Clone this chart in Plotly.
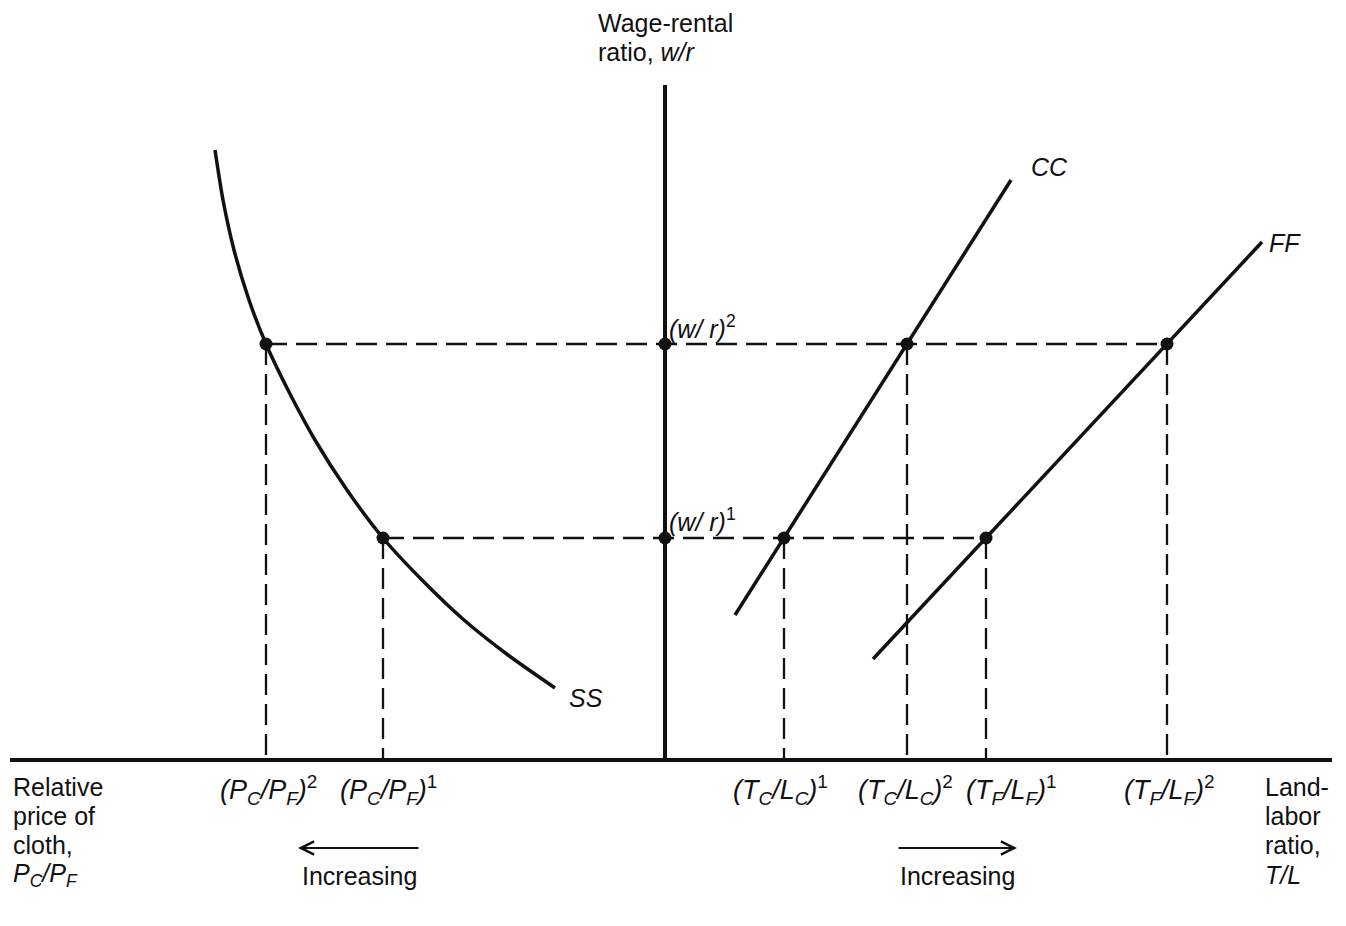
import plotly.graph_objects as go

# ---- Diagram values (origin = where the two axes cross; up = w/r,
#      left = relative price of cloth, right = land-labor ratio) ----
wage_rental = [222, 416]        # (w/r)^1, (w/r)^2
price_cloth = [-282, -399]      # (PC/PF)^1, (PC/PF)^2  (measured leftward)
tc_lc = [119, 242]              # (TC/LC)^1, (TC/LC)^2
tf_lf = [321, 502]              # (TF/LF)^1, (TF/LF)^2

# SS curve (relative price of cloth vs wage-rental ratio)
ss_x = [-450, -442, -431, -416, -399, -377, -350, -318, -282, -243, -201, -157, -110]
ss_y = [610, 560, 510, 460, 416, 370, 320, 270, 222, 180, 140, 105, 72]
# CC and FF lines (land-labor ratio in cloth / food vs wage-rental ratio)
cc_x = [70, 346]
cc_y = [145, 580]
ff_x = [208, 597]
ff_y = [101, 518]
# axes extents
h_axis_x = [-655, 667]
v_axis_y = [0, 675]

FONT = "Liberation Sans, Arial, Helvetica, sans-serif"
FS = 25
FS_TICK = 27
BLACK = "#111111"

fig = go.Figure()

# axes
fig.add_trace(go.Scatter(x=h_axis_x, y=[0, 0], mode="lines",
                         line=dict(color=BLACK, width=4), hoverinfo="skip"))
fig.add_trace(go.Scatter(x=[0, 0], y=v_axis_y, mode="lines",
                         line=dict(color=BLACK, width=4), hoverinfo="skip"))

# dashed guides
dash = dict(color=BLACK, width=2.3, dash="21px,9px")
for i in range(2):
    fig.add_trace(go.Scatter(x=[price_cloth[i], tf_lf[i]], y=[wage_rental[i]] * 2,
                             mode="lines", line=dash, hoverinfo="skip"))
    for xv in (price_cloth[i], tc_lc[i], tf_lf[i]):
        fig.add_trace(go.Scatter(x=[xv, xv], y=[wage_rental[i], 0],
                                 mode="lines", line=dash, hoverinfo="skip"))

# curves
fig.add_trace(go.Scatter(x=ss_x, y=ss_y, mode="lines",
                         line=dict(color=BLACK, width=3.5, shape="spline", smoothing=0.7),
                         hoverinfo="skip"))
fig.add_trace(go.Scatter(x=cc_x, y=cc_y, mode="lines",
                         line=dict(color=BLACK, width=3.5), hoverinfo="skip"))
fig.add_trace(go.Scatter(x=ff_x, y=ff_y, mode="lines",
                         line=dict(color=BLACK, width=3.5), hoverinfo="skip"))

# equilibrium dots
dot_x, dot_y = [], []
for i in range(2):
    for xv in (price_cloth[i], 0, tc_lc[i], tf_lf[i]):
        dot_x.append(xv)
        dot_y.append(wage_rental[i])
fig.add_trace(go.Scatter(x=dot_x, y=dot_y, mode="markers",
                         marker=dict(color=BLACK, size=13), hoverinfo="skip"))

ann = []


def txt(x, y, text, xanchor="left", yanchor="middle", xshift=0, size=FS):
    ann.append(dict(x=x, y=y, text=text, showarrow=False, xanchor=xanchor,
                    yanchor=yanchor, xshift=xshift,
                    font=dict(family=FONT, size=size, color=BLACK)))


# curve labels
txt(cc_x[1] + 18, cc_y[1] + 13, "<i>CC</i>")
txt(ff_x[1] + 5, ff_y[1] - 1, "<i>FF</i>")
txt(ss_x[-1] + 12, ss_y[-1] - 10, "<i>SS</i>")

# w/r levels
txt(2, wage_rental[1] + 17, "<i>(w/ r)</i><sup>2</sup>")
txt(2, wage_rental[0] + 18, "<i>(w/ r)</i><sup>1</sup>")

# tick labels under horizontal axis
lab_y = -30
txt(price_cloth[1], lab_y, "<i>(P<sub>C</sub>/P<sub>F</sub>)</i><sup>2</sup>", "center", xshift=2, size=FS_TICK)
txt(price_cloth[0], lab_y, "<i>(P<sub>C</sub>/P<sub>F</sub>)</i><sup>1</sup>", "center", xshift=5, size=FS_TICK)
txt(tc_lc[0], lab_y, "<i>(T<sub>C</sub>/L<sub>C</sub>)</i><sup>1</sup>", "center", xshift=-4, size=FS_TICK)
txt(tc_lc[1], lab_y, "<i>(T<sub>C</sub>/L<sub>C</sub>)</i><sup>2</sup>", "center", xshift=-2, size=FS_TICK)
txt(tf_lf[0], lab_y, "<i>(T<sub>F</sub>/L<sub>F</sub>)</i><sup>1</sup>", "center", xshift=25, size=FS_TICK)
txt(tf_lf[1], lab_y, "<i>(T<sub>F</sub>/L<sub>F</sub>)</i><sup>2</sup>", "center", xshift=2, size=FS_TICK)

# axis titles
left_lines = ["Relative", "price of", "cloth,", "<i>P<sub>C</sub>/P<sub>F</sub></i>"]
right_lines = ["Land-", "labor", "ratio,", "<i>T/L</i>"]
line_y = [-27, -56, -85, -115]
for t, yv in zip(left_lines, line_y):
    txt(h_axis_x[0] + 1, yv, t)
for t, yv in zip(right_lines, line_y):
    txt(598, yv, t)
txt(-69, 737, "Wage-rental")
txt(-69, 708, "ratio, <i>w/r</i>")

# "Increasing" arrows
arrow_y = -88
for head, tail in ((-367, -245), (352, 232)):
    ann.append(dict(x=head, y=arrow_y, ax=tail, ay=arrow_y, axref="x", ayref="y",
                    xref="x", yref="y", text="", showarrow=True, arrowhead=5,
                    arrowsize=1.3, arrowwidth=2, arrowcolor=BLACK))
    txt((head + tail) / 2, -116, "Increasing", "center")

# page body has an 8px margin; figure is sized to fit inside the window
fig.update_layout(
    width=1330, height=910,
    margin=dict(l=0, r=0, t=0, b=0),
    paper_bgcolor="white", plot_bgcolor="white",
    showlegend=False, annotations=ann,
    xaxis=dict(range=[-657, 673], visible=False, fixedrange=True),
    yaxis=dict(range=[-158, 752], visible=False, fixedrange=True),
)

fig.write_html("out.html")
